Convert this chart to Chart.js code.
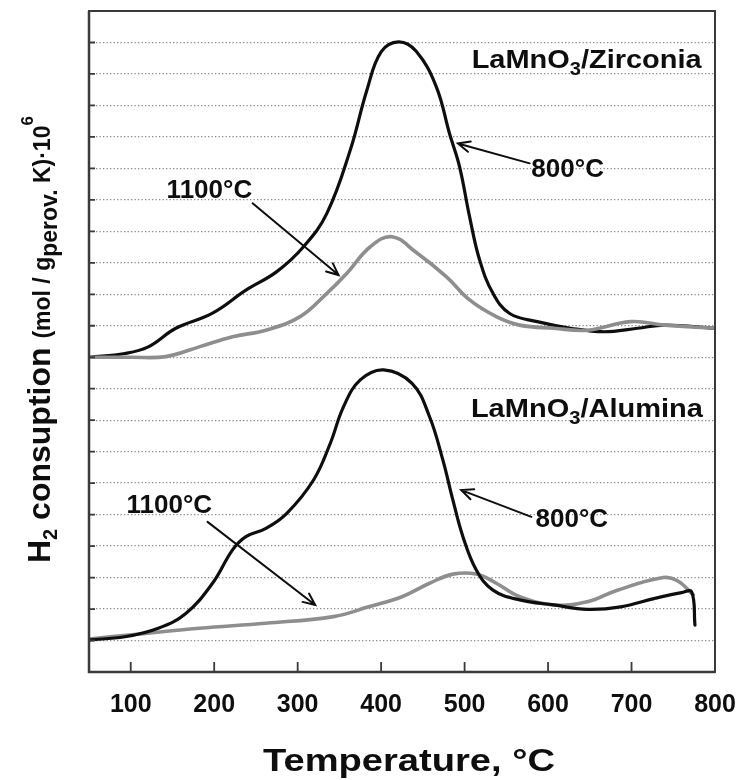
<!DOCTYPE html>
<html>
<head>
<meta charset="utf-8">
<script src="https://cdn.jsdelivr.net/npm/chart.js@4.4.1/dist/chart.umd.min.js"></script>
<style>
    html, body { margin: 0; padding: 0; background: #fff; }
    #wrap { width: 738px; height: 780px; position: relative; }
</style>
</head>
<body>
<div id="wrap"><canvas id="tprChart"></canvas></div>
<script>
// x tick labels (temperature, °C)
const xTickLabels = [100, 200, 300, 400, 500, 600, 700, 800];
// y grid positions (one chart, two stacked panels: zirconia baseline at 10, alumina at 1)
const yGridValues = [1, 2, 3, 4, 5, 6, 7, 8, 9, 10, 11, 12, 13, 14, 15, 16, 17, 18, 19, 20];

// LaMnO3/Zirconia, 800°C (black)
const zirc800Temp = [50, 93, 121, 154, 198, 238, 275, 307, 335, 363, 383, 400, 421, 442, 466, 482, 494, 506, 518, 534, 554, 587, 627, 667, 707, 740, 800];
const zirc800Val = [10.0, 10.12, 10.33, 10.92, 11.4, 12.13, 12.72, 13.51, 14.57, 16.58, 18.49, 19.7, 20.02, 19.72, 18.6, 17.1, 16.05, 14.46, 13.09, 12.03, 11.39, 11.13, 10.92, 10.81, 10.92, 11.02, 10.92];

// LaMnO3/Zirconia, 1100°C (grey)
const zirc1100Temp = [50, 100, 142, 182, 222, 262, 303, 335, 359, 387, 413, 441, 478, 506, 538, 566, 607, 647, 699, 740, 800];
const zirc1100Val = [10.0, 10.0, 10.02, 10.33, 10.65, 10.86, 11.29, 12.03, 12.67, 13.51, 13.83, 13.35, 12.56, 11.82, 11.29, 11.02, 10.92, 10.86, 11.13, 11.02, 10.92];

// LaMnO3/Alumina, 800°C (black)
const alum800Temp = [50, 93, 133, 166, 198, 222, 238, 262, 287, 319, 339, 355, 375, 403, 437, 458, 474, 486, 498, 514, 534, 566, 607, 647, 687, 728, 760, 772, 776];
const alum800Val = [1.02, 1.12, 1.39, 1.86, 2.82, 3.88, 4.3, 4.56, 5.04, 6.1, 7.26, 8.43, 9.28, 9.6, 9.17, 8.11, 6.73, 5.46, 4.3, 3.24, 2.6, 2.29, 2.13, 1.99, 2.07, 2.34, 2.52, 2.55, 1.49];

// LaMnO3/Alumina, 1100°C (grey)
const alum1100Temp = [50, 101, 182, 262, 343, 385, 425, 458, 486, 514, 538, 566, 607, 647, 683, 738, 755, 774];
const alum1100Val = [1.05, 1.18, 1.39, 1.55, 1.76, 2.07, 2.39, 2.82, 3.11, 3.11, 2.82, 2.39, 2.13, 2.23, 2.6, 3.0, 2.9, 2.45];

const FONT = '"Liberation Sans", Arial, sans-serif';
const BLACK = '#0e0e0e';
const GREY = '#8e8e8e';

const toXY = (temps, vals) => temps.map((t, i) => ({ x: t, y: vals[i] }));

// labels and arrows, placed in data coordinates
const annotations = [
    { parts: [['1100°C', 26, 0]], x: 143, y: 15.06, align: 'left' },
    { parts: [['800°C', 26, 0]], x: 580, y: 15.72, align: 'left' },
    { parts: [['1100°C', 26, 0]], x: 95, y: 5.05, align: 'left' },
    { parts: [['800°C', 26, 0]], x: 585, y: 4.61, align: 'left' },
    { parts: [['LaMnO', 26, 0], ['3', 18, 7], ['/Zirconia', 26, 0]], x: 784, y: 19.19, align: 'right', width: 230 },
    { parts: [['LaMnO', 26, 0], ['3', 18, 7], ['/Alumina', 26, 0]], x: 785.5, y: 8.11, align: 'right', width: 232 },
];
const arrows = [
    { from: [246, 14.89], to: [349, 12.61] },
    { from: [578, 16.16], to: [492, 16.79] },
    { from: [192, 4.77], to: [321, 2.13] },
    { from: [580, 4.93], to: [496, 5.78] },
];

function drawRich(ctx, parts, x, y, align, width) {
    let natural = 0;
    parts.forEach(([t, size]) => {
        ctx.font = `bold ${size}px ${FONT}`;
        natural += ctx.measureText(t).width;
    });
    const sx = width ? width / natural : 1;
    const total = natural * sx;
    let start = align === 'right' ? -total : align === 'center' ? -total / 2 : 0;
    ctx.save();
    ctx.translate(x + start, y);
    ctx.scale(sx, 1);
    ctx.fillStyle = BLACK;
    ctx.textBaseline = 'alphabetic';
    ctx.textAlign = 'left';
    let cx = 0;
    parts.forEach(([t, size, dy]) => {
        ctx.font = `bold ${size}px ${FONT}`;
        ctx.fillText(t, cx, dy);
        cx += ctx.measureText(t).width;
    });
    ctx.restore();
}

function drawArrow(ctx, x1, y1, x2, y2) {
    const ang = Math.atan2(y2 - y1, x2 - x1);
    const head = 13;
    const spread = 0.42;
    ctx.save();
    ctx.strokeStyle = BLACK;
    ctx.lineWidth = 2;
    ctx.lineCap = 'round';
    ctx.beginPath();
    ctx.moveTo(x1, y1);
    ctx.lineTo(x2, y2);
    ctx.moveTo(x2 - head * Math.cos(ang - spread), y2 - head * Math.sin(ang - spread));
    ctx.lineTo(x2, y2);
    ctx.lineTo(x2 - head * Math.cos(ang + spread), y2 - head * Math.sin(ang + spread));
    ctx.stroke();
    ctx.restore();
}

const decorations = {
    id: 'decorations',
    afterDraw(chart) {
        const { ctx, chartArea: area, scales } = chart;
        const xs = scales.x;
        const ys = scales.y;

        // frame
        ctx.save();
        ctx.strokeStyle = '#3a3a3a';
        ctx.lineWidth = 2;
        ctx.strokeRect(area.left, area.top, area.right - area.left, area.bottom - area.top);
        ctx.lineWidth = 2.5;
        ctx.beginPath();
        ctx.moveTo(area.left, area.top);
        ctx.lineTo(area.left, area.bottom);
        ctx.lineTo(area.right, area.bottom);
        ctx.stroke();

        // inward tick marks
        ctx.lineWidth = 1.8;
        ctx.beginPath();
        xTickLabels.forEach((v) => {
            const px = xs.getPixelForValue(v);
            if (px < area.right - 2) {
                ctx.moveTo(px, area.bottom);
                ctx.lineTo(px, area.bottom - 10);
            }
        });
        yGridValues.forEach((v) => {
            const py = ys.getPixelForValue(v);
            ctx.moveTo(area.left, py);
            ctx.lineTo(area.left + 6, py);
        });
        ctx.stroke();
        ctx.restore();

        annotations.forEach((a) => {
            drawRich(ctx, a.parts, xs.getPixelForValue(a.x), ys.getPixelForValue(a.y), a.align, a.width);
        });
        arrows.forEach((a) => {
            drawArrow(ctx,
                xs.getPixelForValue(a.from[0]), ys.getPixelForValue(a.from[1]),
                xs.getPixelForValue(a.to[0]), ys.getPixelForValue(a.to[1]));
        });

        // axis titles
        drawRich(ctx, [['Temperature, °C', 32, 0]], 409, 771, 'center', 292);

        ctx.save();
        ctx.translate(50, 563);
        ctx.rotate(-Math.PI / 2);
        drawRich(ctx, [
            ['H', 32, 0], ['2', 20, 7], [' consuption ', 32, 0],
            ['(mol / g', 23, 0], ['perov.', 23, 7], [' K)·10', 23, 0], ['6', 17, -17],
        ], 0, 0, 'left');
        ctx.restore();
    },
};

const lineStyle = (color, width) => ({
    borderColor: color,
    borderWidth: width,
    pointRadius: 0,
    fill: false,
    tension: 0.4,
    borderCapStyle: 'round',
    borderJoinStyle: 'round',
});

new Chart(document.getElementById('tprChart'), {
    type: 'line',
    data: {
        datasets: [
            { label: 'Zirconia 1100°C', data: toXY(zirc1100Temp, zirc1100Val), ...lineStyle(GREY, 3.6) },
            { label: 'Zirconia 800°C', data: toXY(zirc800Temp, zirc800Val), ...lineStyle(BLACK, 3.2) },
            { label: 'Alumina 800°C', data: toXY(alum800Temp, alum800Val), ...lineStyle(BLACK, 3.2) },
            { label: 'Alumina 1100°C', data: toXY(alum1100Temp, alum1100Val), ...lineStyle(GREY, 3.6) },
        ],
    },
    options: {
        responsive: true,
        maintainAspectRatio: false,
        animation: false,
        layout: {
            padding: { top: 11, right: 23, left: 0, bottom: 0 },
        },
        plugins: {
            legend: { display: false },
            tooltip: { enabled: false },
        },
        scales: {
            x: {
                type: 'linear',
                min: 50,
                max: 800,
                afterBuildTicks(scale) {
                    scale.ticks = xTickLabels.map((v) => ({ value: v }));
                },
                afterFit(scale) {
                    scale.height = 108;
                    scale.paddingLeft = 0;
                    scale.paddingRight = 0;
                },
                grid: { display: false, drawTicks: false },
                border: { display: false },
                ticks: {
                    color: BLACK,
                    padding: 18,
                    maxRotation: 0,
                    autoSkip: false,
                    font: { family: FONT, size: 25, weight: 'bold' },
                },
            },
            y: {
                type: 'linear',
                min: 0,
                max: 21,
                afterBuildTicks(scale) {
                    scale.ticks = yGridValues.map((v) => ({ value: v }));
                },
                afterFit(scale) {
                    scale.width = 89;
                },
                grid: {
                    drawTicks: false,
                    color: '#8a8a8a',
                    lineWidth: 1.3,
                },
                border: { display: false, dash: [1.3, 2.2] },
                ticks: { display: false },
            },
        },
    },
    plugins: [decorations],
});
</script>
</body>
</html>
